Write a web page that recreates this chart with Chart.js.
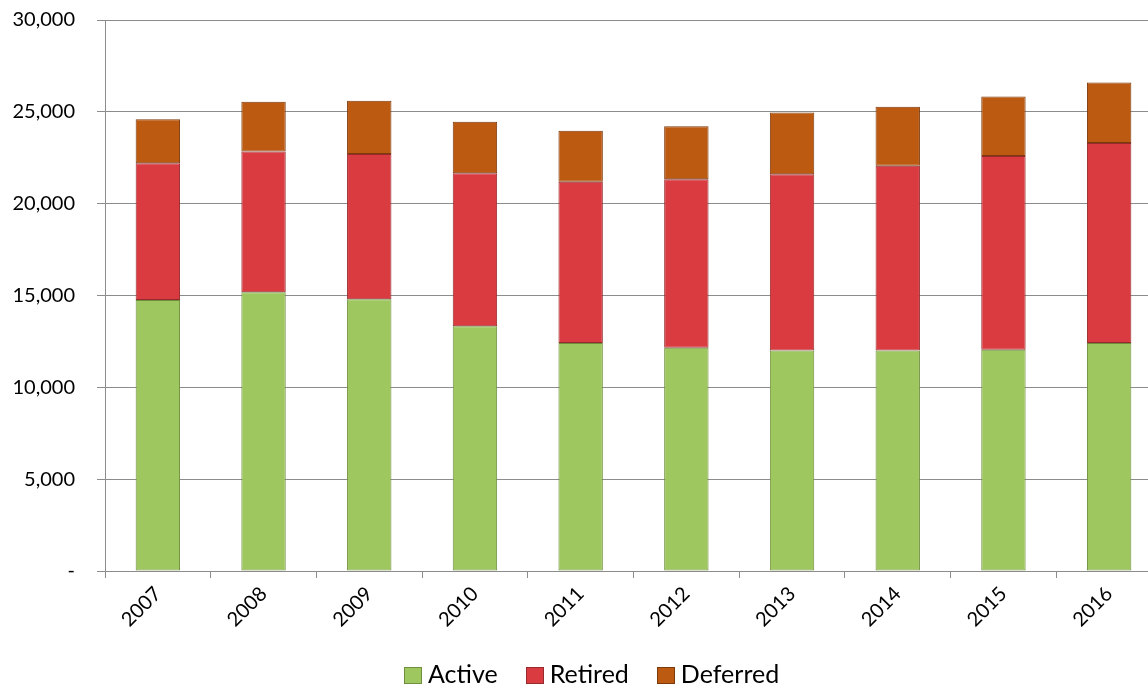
<!DOCTYPE html>
<html>
<head>
<meta charset="utf-8">
<script src="https://cdn.jsdelivr.net/npm/chart.js@4.4.1/dist/chart.umd.min.js"></script>
<style>
  html, body { margin: 0; padding: 0; background: #fff; width: 1148px; height: 688px; overflow: hidden; }
  #wrap { position: absolute; left: 0; top: -14px; width: 1162px; height: 702px; }
  #legend { position: absolute; left: 404px; top: 658px; display: flex; font-family: Lato, "Noto Sans", sans-serif; font-size: 25px; line-height: 30px; color: #000; }
  #legend .item { display: flex; align-items: flex-start; }
  #legend .box { width: 18px; height: 17px; margin-right: 6px; margin-top: 9px; box-sizing: border-box; }
</style>
</head>
<body>
<div id="wrap"><canvas id="myChart"></canvas></div>
<div id="legend"></div>
<script>
// categories and values
const years = ["2007", "2008", "2009", "2010", "2011", "2012", "2013", "2014", "2015", "2016"];
const active   = [14750, 15180, 14800, 13330, 12420, 12150, 12000, 12000, 12050, 12420];
const retired  = [7450, 7660, 7900, 8330, 8780, 9180, 9600, 10060, 10550, 10880];
const deferred = [2400, 2710, 2900, 2800, 2770, 2890, 3370, 3210, 3240, 3300];
const yTicks   = [0, 5000, 10000, 15000, 20000, 25000, 30000];

// colours
const colorSet = {
  green : "#9fc75f", green_b : "#6f8f3c",
  red   : "#da3b41", red_b   : "#962a2d",
  brown : "#bd5a12", brown_b : "#7c3a0b",
};

const FONT = "Lato, 'Noto Sans', sans-serif";

const data = {
  labels: years,
  datasets: [
    { label: "Active",   data: active,   backgroundColor: colorSet.green, borderColor: colorSet.green_b },
    { label: "Retired",  data: retired,  backgroundColor: colorSet.red,   borderColor: colorSet.red_b },
    { label: "Deferred", data: deferred, backgroundColor: colorSet.brown, borderColor: colorSet.brown_b },
  ].map(d => Object.assign(d, {
    borderWidth: 1,
    borderSkipped: false,
    barPercentage: 0.42,
    categoryPercentage: 1.0,
  }))
};

const config = {
  type: "bar",
  data: data,
  options: {
    responsive: true,
    maintainAspectRatio: false,
    animation: false,
    layout: { padding: { left: 0, top: 9, right: 0, bottom: 52 } },
    plugins: {
      legend: { display: false },
      tooltip: { enabled: false },
    },
    scales: {
      x: {
        stacked: true,
        afterFit: axis => { axis.height = 65; },
        grid: { display: true, drawOnChartArea: false, drawTicks: true, tickLength: 7, color: "#8c8c8c", offset: true },
        border: { display: true, color: "#8c8c8c", width: 1 },
        ticks: { color: "#000", font: { family: FONT, size: 20 }, minRotation: 45, maxRotation: 45, padding: 4 },
      },
      y: {
        stacked: true,
        min: 0,
        max: 30000,
        afterBuildTicks: axis => { axis.ticks = yTicks.map(v => ({ value: v })); },
        afterFit: axis => { axis.width = 105; },
        grid: { color: "#8c8c8c", lineWidth: 1, tickLength: 8 },
        border: { display: true, color: "#8c8c8c", width: 1 },
        ticks: {
          color: "#000",
          font: { family: FONT, size: 20 },
          padding: 22,
          callback: v => v === 0 ? "-" : v.toLocaleString("en-US"),
        },
      },
    },
  },
};

const ctx = document.getElementById("myChart");
const myChart = new Chart(ctx, config);

// legend built from the datasets
const legend = document.getElementById("legend");
data.datasets.forEach((ds, i) => {
  const item = document.createElement("div");
  item.className = "item";
  item.style.marginRight = "28px";
  const box = document.createElement("span");
  box.className = "box";
  box.style.background = ds.backgroundColor;
  box.style.border = "1px solid " + ds.borderColor;
  const txt = document.createElement("span");
  txt.textContent = ds.label;
  item.appendChild(box);
  item.appendChild(txt);
  legend.appendChild(item);
});
</script>
</body>
</html>
